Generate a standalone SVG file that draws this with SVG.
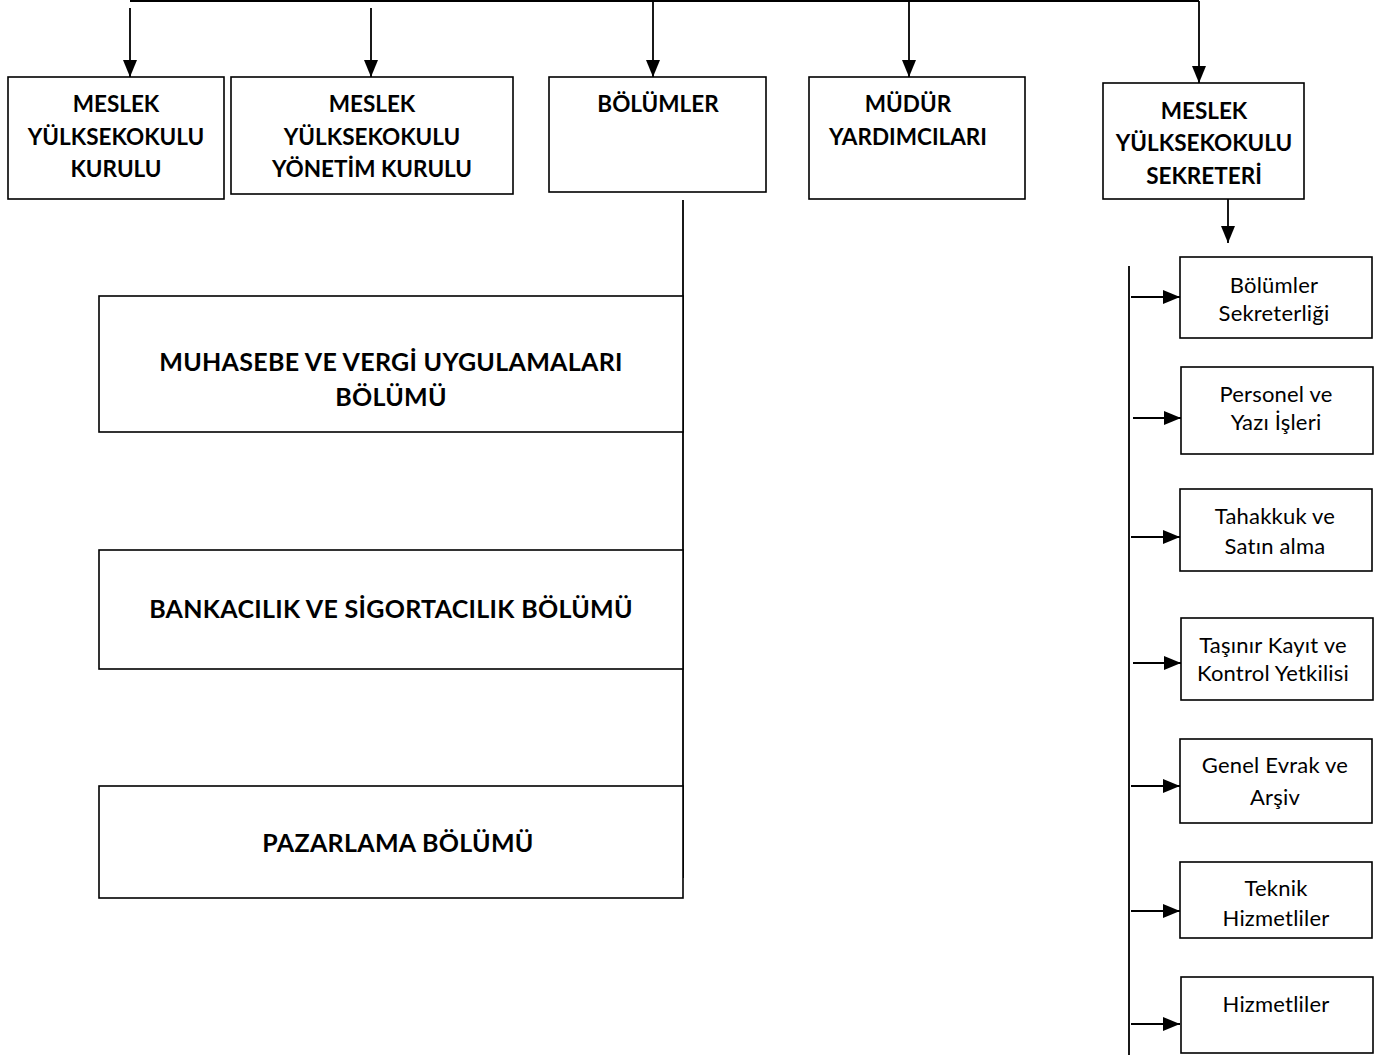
<svg xmlns="http://www.w3.org/2000/svg" width="1384" height="1055" viewBox="0 0 1384 1055">
<style>
.box{fill:#fff;stroke:#000;stroke-width:1.6}
.ln{stroke:#000;stroke-width:1.8;fill:none}
.b{font-family:Lato,"Liberation Sans",sans-serif;font-weight:bold;font-size:22.5px;text-anchor:middle;fill:#000}
.bb{font-family:Lato,"Liberation Sans",sans-serif;font-weight:bold;font-size:25px;letter-spacing:0.3px;text-anchor:middle;fill:#000}
.r{font-family:Lato,"Liberation Sans",sans-serif;font-size:22px;letter-spacing:0.2px;text-anchor:middle;fill:#000}
</style>
<defs>
<marker id="ah" markerUnits="userSpaceOnUse" markerWidth="17" markerHeight="14" refX="17" refY="7" orient="auto">
<path d="M0,0 L17,7 L0,14 Z" fill="#000"/>
</marker>
</defs>
<rect width="1384" height="1055" fill="#fff"/>
<g id="connectors">
<line class="ln" x1="130" y1="1" x2="1199" y2="1"/>
<line class="ln" x1="130" y1="8" x2="130" y2="77" marker-end="url(#ah)"/>
<line class="ln" x1="371" y1="8" x2="371" y2="77" marker-end="url(#ah)"/>
<line class="ln" x1="653" y1="1" x2="653" y2="77" marker-end="url(#ah)"/>
<line class="ln" x1="909" y1="1" x2="909" y2="77" marker-end="url(#ah)"/>
<line class="ln" x1="1199" y1="1" x2="1199" y2="83" marker-end="url(#ah)"/>
<line class="ln" x1="683" y1="200" x2="683" y2="878"/>
<line class="ln" x1="1228" y1="199" x2="1228" y2="243" marker-end="url(#ah)"/>
<line class="ln" x1="1129" y1="266" x2="1129" y2="1055"/>
<line class="ln" x1="1131" y1="297" x2="1180" y2="297" marker-end="url(#ah)"/>
<line class="ln" x1="1133" y1="418" x2="1181" y2="418" marker-end="url(#ah)"/>
<line class="ln" x1="1131" y1="537" x2="1180" y2="537" marker-end="url(#ah)"/>
<line class="ln" x1="1133" y1="663" x2="1181" y2="663" marker-end="url(#ah)"/>
<line class="ln" x1="1131" y1="786" x2="1180" y2="786" marker-end="url(#ah)"/>
<line class="ln" x1="1131" y1="911" x2="1180" y2="911" marker-end="url(#ah)"/>
<line class="ln" x1="1131" y1="1024" x2="1180" y2="1024" marker-end="url(#ah)"/>
</g>
<g id="n1"><rect class="box" x="8" y="77" width="216" height="122"/>
<text class="b" x="116" y="112">MESLEK</text><text class="b" x="116" y="145">YÜLKSEKOKULU</text><text class="b" x="116" y="177">KURULU</text></g>
<g id="n2"><rect class="box" x="231" y="77" width="282" height="117"/>
<text class="b" x="372" y="112">MESLEK</text><text class="b" x="372" y="145">YÜLKSEKOKULU</text><text class="b" x="372" y="177">YÖNETİM KURULU</text></g>
<g id="n3"><rect class="box" x="549" y="77" width="217" height="115"/>
<text class="b" x="658" y="112">BÖLÜMLER</text></g>
<g id="n4"><rect class="box" x="809" y="77" width="216" height="122"/>
<text class="b" x="908" y="112">MÜDÜR</text><text class="b" x="908" y="145">YARDIMCILARI</text></g>
<g id="n5"><rect class="box" x="1103" y="83" width="201" height="116"/>
<text class="b" x="1204" y="119">MESLEK</text><text class="b" x="1204" y="151">YÜLKSEKOKULU</text><text class="b" x="1204" y="184">SEKRETERİ</text></g>
<g id="d1"><rect class="box" x="99" y="296" width="584" height="136"/>
<text class="bb" x="391" y="371">MUHASEBE VE VERGİ UYGULAMALARI</text><text class="bb" x="391" y="406">BÖLÜMÜ</text></g>
<g id="d2"><rect class="box" x="99" y="550" width="584" height="119"/>
<text class="bb" x="391" y="618">BANKACILIK VE SİGORTACILIK BÖLÜMÜ</text></g>
<g id="d3"><rect class="box" x="99" y="786" width="584" height="112"/>
<text class="bb" x="398" y="852">PAZARLAMA BÖLÜMÜ</text></g>
<g id="s1"><rect class="box" x="1180" y="257" width="192" height="81"/>
<text class="r" x="1274" y="293">Bölümler</text><text class="r" x="1274" y="321">Sekreterliği</text></g>
<g id="s2"><rect class="box" x="1181" y="367" width="192" height="87"/>
<text class="r" x="1276" y="402">Personel ve</text><text class="r" x="1276" y="430">Yazı İşleri</text></g>
<g id="s3"><rect class="box" x="1180" y="489" width="192" height="82"/>
<text class="r" x="1275" y="524">Tahakkuk ve</text><text class="r" x="1275" y="554">Satın alma</text></g>
<g id="s4"><rect class="box" x="1181" y="618" width="192" height="82"/>
<text class="r" x="1273" y="653">Taşınır Kayıt ve</text><text class="r" x="1273" y="681">Kontrol Yetkilisi</text></g>
<g id="s5"><rect class="box" x="1180" y="739" width="192" height="84"/>
<text class="r" x="1275" y="773">Genel Evrak ve</text><text class="r" x="1275" y="805">Arşiv</text></g>
<g id="s6"><rect class="box" x="1180" y="862" width="192" height="76"/>
<text class="r" x="1276" y="896">Teknik</text><text class="r" x="1276" y="926">Hizmetliler</text></g>
<g id="s7"><rect class="box" x="1181" y="977" width="192" height="76"/>
<text class="r" x="1276" y="1012">Hizmetliler</text></g>
</svg>
